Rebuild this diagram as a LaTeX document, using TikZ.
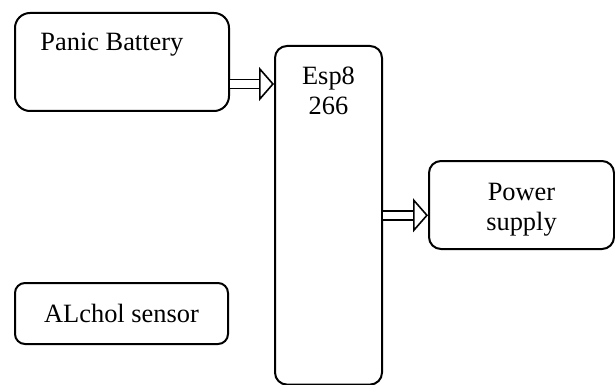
\documentclass[tikz,border=0pt]{standalone}
\usepackage{fontspec}
\setmainfont{Liberation Serif}
\usetikzlibrary{positioning}
\usetikzlibrary{arrows.meta}

\begin{document}
\begin{tikzpicture}[
block/.style={draw=black, line width=1pt, rounded corners=6pt, inner sep=0, align=center},
every node/.style={font=\fontsize{13.2pt}{15pt}\selectfont},
every label/.style={draw=none, inner sep=0, align=center},
feed/.style={double, double distance=3.8pt, line width=0.8pt, -{Triangle[open, length=7.5pt, width=17pt, line width=0.8pt]}}
]
\useasboundingbox (0,0) rectangle (307.5pt,-192.5pt);
\node[block, anchor=north west, minimum width=53.5pt, minimum height=169.3pt,
  label={[anchor=north, yshift=-11pt]north:Esp8\\266}] (esp) at (137pt,-22.5pt) {};
\node[block, anchor=north west, minimum width=107pt, minimum height=49pt, rounded corners=7.5pt,
  label={[anchor=north west, xshift=13pt, yshift=-10.5pt]north west:Panic Battery}] (panic) at (7pt,-6pt) {};
\node[block, anchor=north west, minimum width=92.5pt, minimum height=44pt,
  label={[yshift=-2.5pt]center:Power\\supply}] (power) at (214pt,-80pt) {};
\node[block, anchor=north west, minimum width=106.5pt, minimum height=30.5pt, rounded corners=5pt] (alchol) at (7pt,-141pt) {ALchol sensor};
\draw[feed] ([yshift=14pt]panic.south east) -- ([yshift=14pt]panic.south east -| esp.west);
\draw[feed] (esp.east) -- (esp.east -| power.west);
\end{tikzpicture}
\end{document}
